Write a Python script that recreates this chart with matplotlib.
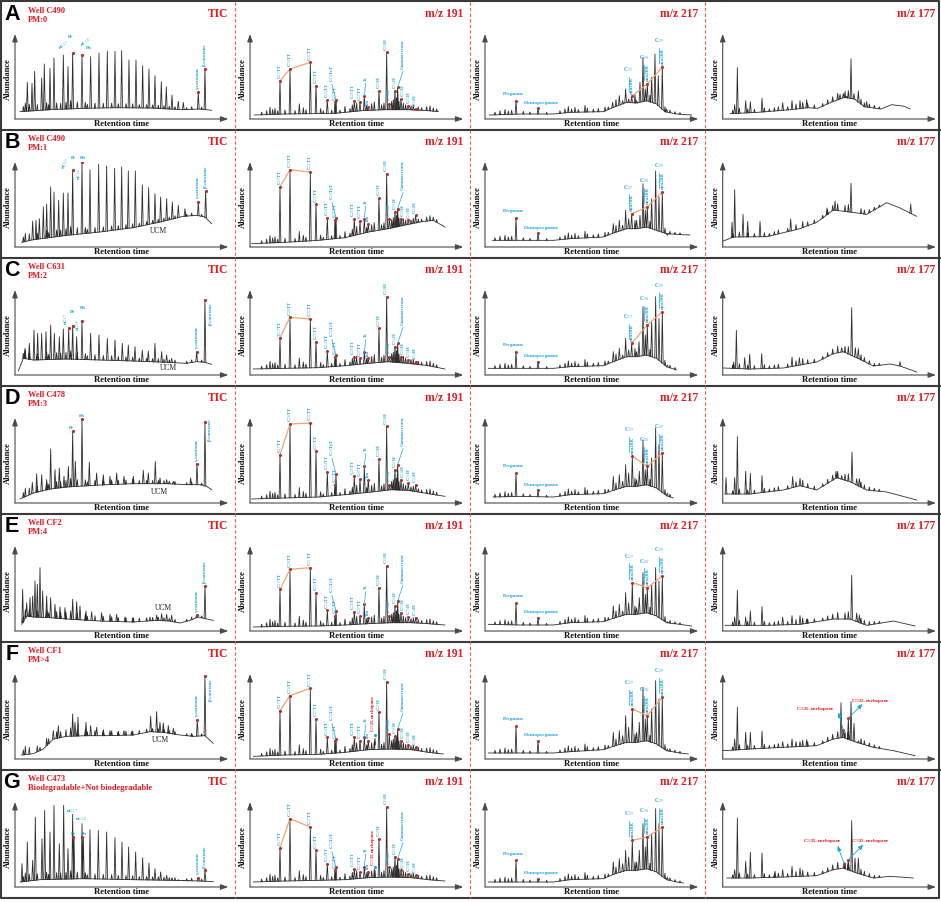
import numpy as np
import matplotlib
matplotlib.use('Agg')
import matplotlib.pyplot as plt

plt.rcParams['mathtext.fontset'] = 'stix'

W, H = 941, 902
SERIF = ['Liberation Serif', 'DejaVu Serif']
SANS = ['Liberation Sans', 'DejaVu Sans']
RED = '#e8161c'
BLUE = '#1aa5e2'
ORANGE = '#f3a46c'
DOT = '#b3322b'
TRACE = '#2e2e2e'

# ---------------- text of the figure ----------------
letters = ['A', 'B', 'C', 'D', 'E', 'F', 'G']
wells = ['Well C490', 'Well C490', 'Well C631', 'Well C478', 'Well CF2', 'Well CF1', 'Well C473']
levels = ['PM:0', 'PM:1', 'PM:2', 'PM:3', 'PM:4', 'PM>4', 'Biodegradable+Not biodegradable']
col_titles = ['TIC', 'm/z 191', 'm/z 217', 'm/z 177']

# ---------------- TIC (retention time, abundance) ----------------
tic_base = [
    [(60, 22), (150, 28), (250, 32), (350, 34), (450, 33), (550, 28), (600, 30), (635, 26)],
    [(65, 14), (100, 22), (200, 35), (300, 45), (400, 58), (480, 75), (550, 92), (590, 95), (615, 90), (635, 70)],
    [(55, 12), (70, 50), (100, 45), (200, 48), (300, 45), (400, 42), (500, 38), (560, 35), (590, 40), (615, 38), (635, 32)],
    [(60, 12), (100, 30), (150, 42), (200, 48), (300, 54), (400, 58), (500, 58), (560, 55), (600, 55), (620, 50), (635, 40)],
    [(65, 20), (80, 45), (100, 42), (150, 40), (200, 36), (300, 30), (400, 27), (470, 32), (510, 30), (540, 24), (570, 32),
     (595, 42), (620, 36), (640, 32)],
    [(65, 12), (100, 16), (130, 30), (160, 60), (200, 68), (260, 70), (320, 70), (400, 72), (450, 82), (490, 80), (540, 72),
     (580, 68), (615, 70), (640, 47)],
    [(60, 15), (120, 22), (250, 25), (400, 22), (520, 20), (600, 18), (640, 16)],
]
tic_peaks = [
    [(82, 110), (96, 107), (104, 143), (125, 123), (133, 165), (150, 152), (162, 183), (190, 192), (204, 157), (218, 198),
     (246, 192), (272, 187), (297, 198), (322, 203), (345, 203), (365, 205), (387, 177), (408, 177), (428, 160), (447, 150),
     (465, 130), (484, 112), (499, 97), (516, 72), (535, 53), (550, 50), (595, 80), (615, 150)],
    [(98, 78), (108, 80), (118, 85), (130, 120), (140, 128), (152, 180), (162, 165), (176, 140), (190, 162), (204, 162),
     (218, 230), (246, 255), (270, 232), (296, 248), (320, 243), (344, 236), (365, 240), (385, 228), (406, 228), (427, 186),
     (446, 178), (465, 160), (482, 150), (500, 145), (517, 135), (535, 125), (555, 115), (595, 135), (617, 168)],
    [(75, 80), (88, 95), (102, 135), (113, 125), (125, 125), (138, 130), (152, 150), (163, 125), (178, 115), (190, 138),
     (206, 140), (218, 148), (230, 115), (246, 162), (272, 125), (297, 120), (322, 110), (345, 105), (367, 95), (385, 90),
     (405, 85), (427, 75), (445, 72), (465, 95), (485, 70), (500, 60), (515, 50), (590, 70), (615, 225)],
    [(97, 62), (110, 88), (125, 85), (140, 70), (152, 162), (165, 100), (178, 105), (192, 80), (205, 110), (218, 215),
     (226, 125), (246, 253), (268, 123), (290, 90), (310, 85), (330, 80), (350, 90), (372, 80), (400, 80), (430, 98),
     (445, 90), (466, 125), (480, 75), (500, 70), (520, 65), (572, 75), (591, 118), (615, 243)],
    [(68, 125), (80, 85), (90, 100), (98, 105), (105, 150), (112, 140), (120, 190), (128, 120), (140, 105), (152, 100),
     (165, 80), (180, 72), (195, 70), (218, 95), (230, 88), (240, 75), (258, 60), (275, 58), (305, 55), (330, 50), (350, 50),
     (375, 42), (400, 40), (450, 42), (470, 48), (485, 52), (500, 50), (515, 48), (590, 48), (615, 135)],
    [(120, 35), (160, 85), (175, 100), (218, 135), (225, 110), (234, 125), (258, 110), (272, 100), (290, 95), (310, 88),
     (330, 85), (355, 82), (372, 85), (395, 82), (452, 128), (470, 142), (480, 110), (490, 108), (505, 100), (520, 92),
     (575, 75), (592, 118), (615, 250)],
    [(66, 70), (82, 135), (98, 80), (106, 210), (126, 145), (134, 230), (150, 165), (162, 245), (178, 130), (191, 245),
     (204, 115), (218, 218), (222, 150), (246, 190), (250, 150), (270, 172), (295, 170), (320, 165), (345, 148), (366, 135),
     (386, 120), (407, 105), (428, 88), (447, 72), (465, 55), (482, 45), (500, 35), (516, 28), (535, 22), (550, 20),
     (565, 20), (595, 28), (615, 50)],
]
tic_grass = [(70, 15), (76, 25), (88, 20), (112, 18), (140, 22), (146, 15), (170, 20), (182, 18), (198, 20), (212, 25),
             (232, 20), (256, 18), (262, 12), (285, 15), (310, 14), (335, 14), (355, 12), (378, 12), (398, 12), (418, 10),
             (440, 10), (458, 10), (475, 10), (492, 9), (508, 8), (525, 8), (560, 6), (575, 8), (605, 6)]
# (label, retention time, abundance, rotation)
tic_labels = [
    [('nC$_{17}$', 190, 222, 35), ('Pr', 213, 245, 0), ('nC$_{18}$', 258, 230, 35), ('Ph', 268, 213, 0),
     ('γ-carotane', 595, 88, 90), ('β-carotane', 615, 158, 90)],
    [('nC$_{17}$', 198, 250, 60), ('Pr', 222, 268, 0), ('Ph', 248, 268, 0), ('nC$_{18}$', 238, 200, 90),
     ('γ-carotane', 595, 143, 90), ('β-carotane', 617, 176, 90)],
    [('nC$_{17}$', 199, 150, 90), ('Pr', 218, 190, 0), ('nC$_{18}$', 236, 132, 90), ('Ph', 250, 200, 0),
     ('γ-carotane', 590, 78, 90), ('β-carotane', 632, 150, 90)],
    [('Pr', 215, 225, 0), ('Ph', 245, 262, 0), ('γ-carotane', 591, 123, 90), ('β-carotane', 628, 185, 90)],
    [('γ-carotane', 590, 55, 90), ('β-carotane', 615, 143, 90)],
    [('γ-carotane', 592, 126, 90), ('β-carotane', 633, 175, 90)],
    [('nC$_{17}$', 216, 227, 0), ('nC$_{18}$', 242, 203, 0), ('Pr', 222, 160, 0), ('Ph', 252, 160, 0),
     ('γ-carotane', 595, 36, 90), ('β-carotane', 615, 58, 90)],
]
tic_dots = [
    [(218, 198), (246, 192), (595, 80), (615, 150)],
    [(218, 230), (246, 255), (595, 135), (617, 168)],
    [(206, 140), (218, 148), (246, 162), (590, 70), (615, 225)],
    [(218, 215), (246, 253), (591, 118), (615, 243)],
    [(590, 48), (615, 135)],
    [(592, 118), (615, 250)],
    [(218, 150), (246, 150), (595, 28), (615, 50)],
]
ucm_pos = [None, (475, 48), (505, 20), (478, 32), (490, 68), (482, 57), None]

# ---------------- m/z 191 ----------------
m191_names = ['C$_{19}$TT', 'C$_{20}$TT', 'C$_{21}$TT', 'C$_{23}$TT', 'C$_{24}$TT', 'C$_{25}$TT', 'C$_{24}$TeT',
              'C$_{28}$TT', 'C$_{29}$TT', 'Ts', 'Tm', 'C$_{29}$H', 'C$_{30}$H', 'C$_{30}$M', 'C$_{31}$H',
              'Gammacerane', 'C$_{32}$H', 'C$_{33}$H', 'C$_{34}$H']
m191_rt = [135, 165, 226, 243, 277, 300, 303, 358, 375, 388, 400, 432, 455, 463, 480, 488, 498, 520, 542]
m191_height = [
    [115, 150, 170, 100, 58, 50, 58, 55, 50, 70, 35, 85, 200, 45, 85, 95, 60, 40, 30],
    [180, 232, 225, 128, 88, 82, 88, 85, 78, 85, 70, 147, 220, 85, 105, 115, 85, 80, 95],
    [112, 173, 168, 100, 73, 55, 60, 55, 50, 68, 50, 140, 235, 55, 85, 95, 55, 45, 40],
    [145, 237, 240, 155, 93, 55, 88, 80, 72, 110, 70, 132, 230, 55, 100, 115, 70, 60, 55],
    [125, 185, 190, 115, 62, 45, 60, 58, 45, 80, 40, 130, 195, 45, 75, 90, 55, 42, 40],
    [145, 190, 212, 120, 65, 55, 60, 65, 55, 65, 55, 140, 232, 75, 70, 90, 55, 42, 35],
    [118, 205, 180, 110, 70, 50, 60, 55, 45, 60, 45, 145, 240, 60, 90, 85, 50, 40, 35],
]
m191_base = [
    [(58, 12), (150, 15), (300, 17), (380, 25), (450, 28), (520, 28), (580, 25), (610, 22)],
    [(50, 10), (150, 14), (250, 20), (330, 28), (400, 45), (460, 55), (520, 68), (560, 76), (595, 80), (630, 60)],
    [(55, 18), (150, 20), (250, 22), (330, 28), (400, 35), (460, 40), (520, 35), (580, 28), (630, 18)],
    [(50, 12), (150, 15), (250, 18), (330, 25), (400, 32), (470, 40), (520, 38), (580, 28), (630, 20)],
    [(55, 12), (150, 14), (250, 15), (330, 18), (400, 22), (470, 25), (530, 25), (580, 22), (630, 18)],
    [(55, 8), (150, 12), (250, 14), (330, 20), (400, 28), (470, 30), (530, 28), (580, 20), (625, 15)],
    [(55, 15), (150, 18), (250, 20), (330, 22), (400, 28), (470, 30), (530, 28), (580, 22), (630, 18)],
]
m191_grass = [(80, 8), (95, 12), (105, 22), (113, 15), (120, 18), (128, 10), (150, 12), (180, 10), (193, 30), (205, 18),
              (213, 12), (257, 15), (265, 8), (290, 10), (315, 8), (330, 18), (345, 10), (352, 20), (365, 25), (395, 15),
              (410, 20), (418, 25), (440, 15), (447, 20), (470, 25), (475, 30), (485, 35), (492, 25), (505, 20), (512, 15),
              (528, 12), (535, 15), (550, 10), (560, 8), (575, 12), (585, 15), (595, 10), (605, 8)]
# C29 25-norhopane in the biodegraded samples (rows F, G): (rt, peak, label bottom)
m191_norhop = [None, None, None, None, None, (420, 62, 80), (420, 50, 62)]

# ---------------- m/z 217 ----------------
m217_base = [
    [(58, 12), (150, 15), (250, 15), (300, 20), (400, 22), (430, 35), (470, 50), (500, 48), (530, 55), (560, 45), (585, 22),
     (620, 15), (665, 12)],
    [(68, 20), (150, 20), (250, 20), (300, 25), (400, 30), (430, 42), (470, 55), (500, 55), (530, 60), (560, 50), (590, 40),
     (620, 38), (660, 36)],
    [(55, 20), (150, 20), (250, 20), (300, 25), (400, 28), (430, 40), (470, 55), (500, 55), (530, 60), (560, 50), (590, 25),
     (620, 15)],
    [(70, 18), (150, 20), (250, 18), (300, 25), (400, 28), (430, 38), (470, 50), (500, 50), (530, 55), (560, 45), (590, 22),
     (610, 15)],
    [(55, 20), (150, 18), (250, 18), (300, 25), (400, 28), (430, 38), (470, 50), (500, 50), (530, 55), (560, 45), (590, 25),
     (630, 20), (665, 15)],
    [(55, 18), (150, 18), (250, 18), (300, 22), (400, 28), (430, 38), (470, 50), (500, 50), (530, 55), (560, 45), (590, 25),
     (630, 18), (655, 15)],
    [(55, 15), (150, 15), (250, 15), (300, 22), (400, 25), (430, 38), (470, 50), (500, 50), (530, 55), (560, 45), (590, 22),
     (620, 15), (640, 12)],
]
m217_peaks = [
    [(138, 55), (204, 32), (428, 50), (448, 70), (458, 55), (467, 90), (476, 60), (485, 68), (500, 55), (510, 110),
     (519, 185), (526, 90), (532, 105), (545, 125), (555, 195), (565, 130), (577, 155), (590, 30)],
    [(138, 87), (204, 42), (430, 70), (448, 80), (458, 65), (467, 110), (476, 85), (485, 100), (500, 80), (510, 95),
     (519, 190), (526, 110), (532, 120), (545, 145), (557, 228), (567, 150), (577, 165), (592, 35)],
    [(138, 70), (204, 40), (430, 70), (448, 80), (458, 60), (467, 110), (476, 75), (485, 95), (500, 70), (507, 100),
     (519, 205), (526, 120), (532, 150), (545, 160), (557, 235), (567, 170), (577, 190), (592, 30)],
    [(138, 90), (204, 38), (430, 80), (448, 85), (458, 65), (467, 115), (476, 90), (487, 140), (500, 70), (508, 95),
     (519, 190), (526, 100), (532, 110), (545, 135), (557, 225), (567, 175), (577, 150), (592, 30)],
    [(138, 85), (204, 40), (430, 75), (448, 80), (458, 60), (467, 115), (476, 85), (487, 145), (500, 70), (508, 100),
     (519, 175), (526, 110), (532, 130), (545, 140), (557, 190), (567, 150), (577, 165), (592, 28)],
    [(138, 100), (204, 55), (430, 80), (448, 85), (458, 70), (467, 130), (476, 95), (487, 150), (500, 80), (508, 110),
     (519, 215), (526, 120), (532, 130), (545, 150), (557, 235), (567, 180), (577, 185), (592, 30)],
    [(138, 80), (204, 25), (430, 75), (448, 85), (458, 70), (467, 110), (476, 90), (487, 140), (500, 75), (508, 110),
     (519, 190), (526, 120), (532, 150), (545, 160), (557, 235), (567, 190), (577, 180), (592, 30)],
]
m217_grass = [(75, 8), (90, 12), (105, 15), (115, 10), (125, 12), (160, 8), (180, 6), (230, 5), (270, 8), (285, 12),
              (295, 18), (305, 10), (315, 15), (325, 8), (345, 20), (352, 12), (370, 8), (385, 10), (405, 12), (415, 8),
              (438, 20), (495, 25), (540, 20), (585, 15), (600, 8), (615, 6), (630, 5)]
sterane_names = ['C$_{27}$', 'C$_{28}$', 'C$_{29}$']
sterane_rt = [485, 532, 577]

# ---------------- m/z 177 ----------------
m177_base = [
    [(67, 16), (150, 20), (250, 28), (300, 34), (330, 32), (370, 50), (410, 65), (440, 60), (470, 37), (520, 30), (552, 43),
     (590, 38), (607, 30)],
    [(47, 18), (77, 30), (177, 31), (227, 43), (277, 55), (327, 74), (377, 111), (427, 105), (477, 98), (537, 133),
     (577, 117), (627, 92)],
    [(47, 21), (127, 18), (227, 21), (327, 39), (377, 64), (407, 70), (447, 52), (497, 27), (547, 33), (577, 27), (627, 9)],
    [(52, 27), (127, 27), (227, 39), (277, 52), (327, 39), (387, 76), (427, 64), (477, 39), (537, 33), (627, 9)],
    [(52, 17), (177, 17), (277, 20), (377, 36), (427, 36), (477, 17), (557, 30), (622, 15)],
    [(47, 25), (127, 30), (227, 35), (327, 40), (377, 60), (407, 65), (447, 50), (497, 35), (557, 25), (622, 10)],
    [(57, 27), (127, 27), (227, 30), (327, 34), (377, 52), (407, 57), (447, 42), (497, 27), (547, 32), (617, 27)],
]
m177_peaks = [
    [(81, 43), (89, 154), (114, 55), (128, 52), (163, 62), (225, 49), (253, 55), (277, 55), (297, 58), (397, 74), (407, 76),
     (417, 68), (430, 181), (439, 76), (452, 84), (477, 52)],
    [(73, 74), (81, 172), (106, 98), (120, 77), (157, 77), (249, 84), (358, 117), (382, 138), (430, 191), (609, 129)],
    [(78, 39), (86, 134), (111, 52), (126, 62), (162, 64), (253, 54), (275, 52), (402, 82), (432, 202), (443, 82),
     (452, 79), (577, 40)],
    [(55, 76), (81, 76), (89, 199), (114, 95), (128, 89), (163, 82), (255, 79), (277, 74), (385, 95), (402, 82),
     (433, 153), (447, 73), (455, 73)],
    [(81, 42), (89, 122), (114, 42), (128, 60), (163, 73), (225, 42), (253, 46), (277, 46), (297, 36), (432, 167),
     (447, 54), (455, 48)],
    [(81, 60), (89, 155), (114, 80), (128, 80), (163, 83), (225, 52), (253, 60), (277, 52), (297, 58), (400, 169),
     (407, 90), (422, 123), (430, 172), (439, 107), (452, 55)],
    [(81, 52), (89, 207), (114, 77), (128, 104), (163, 102), (202, 47), (225, 52), (253, 62), (277, 57), (409, 72),
     (422, 82), (432, 199), (442, 87), (452, 87)],
]
m177_grass = [(75, 10), (95, 15), (120, 12), (140, 10), (170, 12), (185, 8), (200, 10), (212, 12), (240, 10), (265, 15),
              (285, 18), (300, 12), (320, 10), (345, 8), (360, 12), (375, 15), (390, 20), (412, 18), (422, 22), (460, 15),
              (470, 12), (485, 10), (500, 8), (515, 6)]
# 25-norhopanes (rows F, G): (label, text x, text y, arrow start, arrow end)
m177_norhop = [None, None, None, None, None,
               [('C$_{28}$25-norhopane', 324, 150, (407, 87), (392, 140)),
                ('C$_{29}$25-norhopane', 489, 175, (422, 123), (465, 165))],
               [('C$_{28}$25-norhopane', 345, 137, (409, 70), (390, 124)),
                ('C$_{29}$25-norhopane', 487, 137, (422, 82), (467, 127))]]

# ---------------- figure ----------------
fig = plt.figure(figsize=(W / 100, H / 100), dpi=100)
ov = fig.add_axes([0, 0, 1, 1])
ov.set_xlim(0, W)
ov.set_ylim(H, 0)
ov.axis('off')

col_x = [0, 235, 470, 705]
row_y = [2 + 128 * r for r in range(7)]

# labels of m/z 191 that sit away from their peak, joined by a thin line: (dx, extra height)
m191_offset = {'C$_{24}$TeT': (-12, 48), 'Ts': (4, 40), 'Gammacerane': (16, 50),
               'C$_{30}$M': (-1, 0), 'C$_{31}$H': (2, 0), 'C$_{28}$TT': (-3, 0), 'C$_{29}$TT': (2, 0),
               'C$_{32}$H': (6, 0), 'C$_{33}$H': (2, 0)}


def draw_trace(ax, base, peaks, grass):
    bx = np.array([p[0] for p in base], dtype=float)
    by = np.array([p[1] for p in base], dtype=float)
    ax.plot(bx, by, color=TRACE, lw=0.6)
    xs, ys = [], []
    for x, top in peaks:
        b = np.interp(x, bx, by)
        xs += [x - 2.5, x, x + 2.5, np.nan]
        ys += [b, top, b, np.nan]
    for x, h in grass:
        if x < bx[0] or x > bx[-1]:
            continue
        b = np.interp(x, bx, by)
        xs += [x - 2, x, x + 2, np.nan]
        ys += [b, b + h, b, np.nan]
    ax.plot(xs, ys, color=TRACE, lw=0.6)


def label(ax, txt, x, y, rot=90, color=BLUE, size=3.8):
    if rot == 90:
        ax.text(x, y, txt, rotation=90, ha='center', va='bottom', fontsize=size, color=color,
                family=SERIF, fontweight='bold')
    else:
        ax.text(x, y, txt, rotation=rot, ha='center', va='center', fontsize=size, color=color,
                family=SERIF, fontweight='bold')


for r in range(7):
    for c in range(4):
        left = col_x[c] + (17.7 if c == 3 else 15)
        top = row_y[r] + 32
        ax = fig.add_axes([left / W, 1 - (top + 85) / H, 213.3 / W, 85 / H])
        ax.set_xlim(45, 685)
        ax.set_ylim(0, 255)
        ax.axis('off')
        arrow = dict(arrowstyle='-|>,head_length=0.45,head_width=0.16', color='#4a4a4a', lw=0.8,
                     shrinkA=0, shrinkB=0)
        ax.annotate('', xy=(1, 0), xytext=(0, 0), xycoords='axes fraction', arrowprops=arrow)
        ax.annotate('', xy=(0, 1), xytext=(0, 0), xycoords='axes fraction', arrowprops=arrow)

        if c == 0:
            draw_trace(ax, tic_base[r], tic_peaks[r], tic_grass)
            for txt, x, y, rot in tic_labels[r]:
                label(ax, txt, x, y, rot, size=3.6)
            ax.plot([d[0] for d in tic_dots[r]], [d[1] for d in tic_dots[r]], 'o', ms=1.3, color=DOT)
            if ucm_pos[r]:
                ax.text(ucm_pos[r][0], ucm_pos[r][1], 'UCM', ha='center', va='center', fontsize=5.5,
                        family=SERIF, color='#222222')
        elif c == 1:
            hts = m191_height[r]
            draw_trace(ax, m191_base[r], list(zip(m191_rt, hts)), m191_grass)
            ax.plot(m191_rt[:3], hts[:3], color=ORANGE, lw=0.9)
            ax.plot(m191_rt, hts, 'o', ms=1.2, color=DOT)
            for name, x, h in zip(m191_names, m191_rt, hts):
                dx, dy = m191_offset.get(name, (0, 0))
                if dy:
                    ax.plot([x, x + dx], [h, h + dy - 2], color=BLUE, lw=0.5)
                label(ax, name, x + dx, h + 5 + dy, size=3.4)
            if m191_norhop[r]:
                x, h, yb = m191_norhop[r]
                ax.plot([x - 2, x, x + 2], [h - 20, h, h - 20], color=TRACE, lw=0.6)
                ax.plot(x, h + 10, 'o', ms=1.2, color=BLUE)
                label(ax, 'C$_{29}$25-norhopane', x - 7, yb + 2, color=RED, size=3.4)
        elif c == 2:
            pk = m217_peaks[r]
            draw_trace(ax, m217_base[r], pk, m217_grass)
            lookup = dict(pk)
            ax.text(130, lookup[138] + 14, 'Pregnane', ha='center', va='bottom', fontsize=3.8,
                    color=BLUE, family=SERIF, fontweight='bold')
            ax.text(215, lookup[204] + 10, 'Homopregnane', ha='center', va='bottom', fontsize=3.8,
                    color=BLUE, family=SERIF, fontweight='bold')
            ax.plot([138, 204], [lookup[138], lookup[204]], 'o', ms=1.2, color=DOT)
            st_x = [x for x, _ in pk if min(abs(x - s) for s in sterane_rt) <= 2]
            st_h = [lookup[x] for x in st_x]
            ax.plot(st_x, st_h, color=ORANGE, lw=0.9)
            ax.plot(st_x, st_h, 'o', ms=1.2, color=DOT)
            for name, x, h in zip(sterane_names, st_x, st_h):
                label(ax, 'ααα20R', x + 1, h + 8, size=3.6)
                ax.plot([x - 9, x - 9], [h + 12, h + 58], color=BLUE, lw=0.5)
                ax.text(x - 10, h + 66, name, ha='center', va='bottom', fontsize=4, color=BLUE,
                        family=SERIF, fontweight='bold')
        else:
            draw_trace(ax, m177_base[r], m177_peaks[r], m177_grass)
            if m177_norhop[r]:
                for txt, tx, ty, a0, a1 in m177_norhop[r]:
                    ax.text(tx, ty, txt, ha='center', va='center', fontsize=3.6, color=RED,
                            family=SERIF, fontweight='bold')
                    ax.annotate('', xy=a1, xytext=a0,
                                arrowprops=dict(arrowstyle='-|>,head_length=0.3,head_width=0.12',
                                                color=BLUE, lw=0.6, shrinkA=0, shrinkB=0))
                    ax.plot(a0[0], a0[1], 'o', ms=1.2, color=DOT)

        # axis titles and panel title (figure pixel coordinates)
        shift = 2.7 if c == 3 else 0
        ov.text(col_x[c] + 8 + shift, row_y[r] + 77, 'Abundance', rotation=90, ha='center', va='center',
                fontsize=6.2, family=SERIF, fontweight='bold', color='#111111')
        ov.text(col_x[c] + 122 + shift, row_y[r] + 122.5, 'Retention time', ha='center', va='center',
                fontsize=6.3, family=SERIF, fontweight='bold', color='#111111')
        ov.text(col_x[c] + 228 + shift, row_y[r] + 12, col_titles[c], ha='right', va='center',
                fontsize=8.3, family=SERIF, fontweight='bold', color=RED)

    ov.text(12, row_y[r] + 13, letters[r], ha='center', va='center', fontsize=15.5, family=SANS,
            fontweight='bold', color='black')
    ov.text(28, row_y[r] + 9, wells[r], ha='left', va='center', fontsize=6, family=SERIF,
            fontweight='bold', color=RED)
    ov.text(28, row_y[r] + 18, levels[r], ha='left', va='center', fontsize=6, family=SERIF,
            fontweight='bold', color=RED)

# frame, row separators and dashed column separators
for y in row_y[1:]:
    ov.plot([0, W], [y, y], color='#3a3a3a', lw=1.5)
ov.plot([1, W - 2, W - 2, 1, 1], [1, 1, 898, 898, 1], color='#3a3a3a', lw=1.5)
for x in col_x[1:]:
    ov.plot([x, x], [2, 898], color='#ef5a4c', lw=0.8, dashes=(3, 2))

fig.savefig('out.png', dpi=100)
